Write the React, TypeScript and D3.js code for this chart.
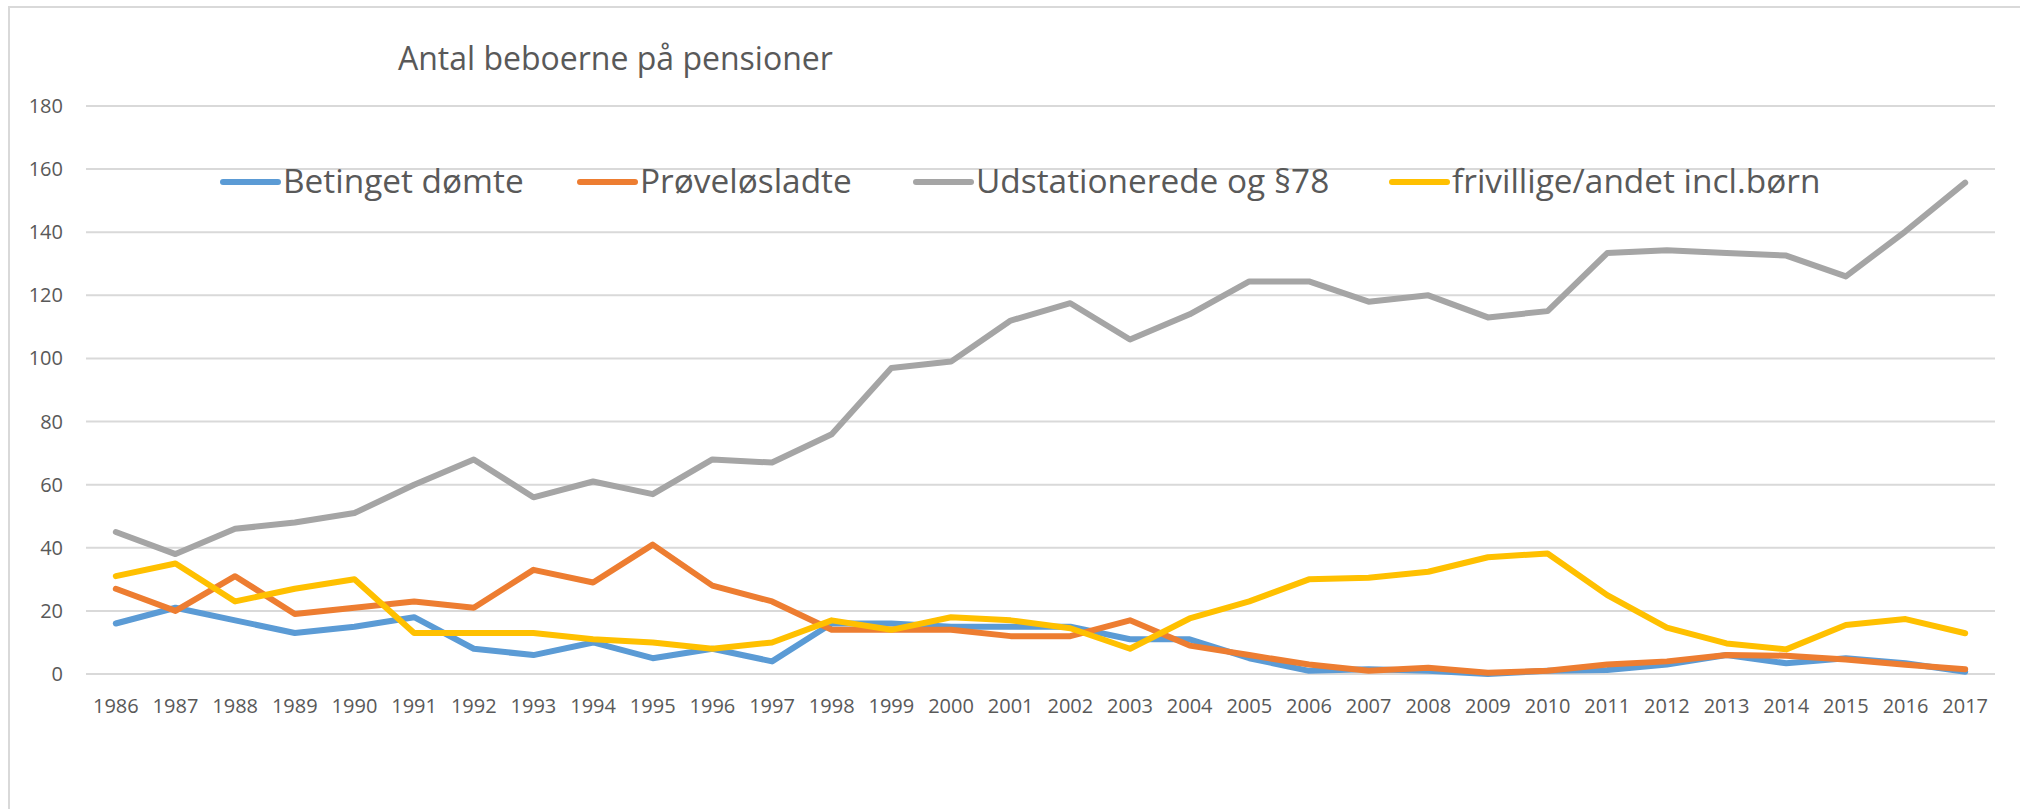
import React from "react";
import * as d3 from "d3";

const years = ["1986","1987","1988","1989","1990","1991","1992","1993","1994","1995","1996","1997","1998","1999","2000","2001","2002","2003","2004","2005","2006","2007","2008","2009","2010","2011","2012","2013","2014","2015","2016","2017"];

const betingetDomte = [16,21,17,13,15,18,8,6,10,5,8,4,16,16,15,15,15,11,11,5,1,1.5,1,0,1,1.3,3,6,3.4,5,3.4,0.7];
const proveloesladte = [27,20,31,19,21,23,21,33,29,41,28,23,14,14,14,12,12,17,9,6,3,1,2,0.4,1,3,4,6,5.8,4.6,2.9,1.5];
const udstationerede = [45,38,46,48,51,60,68,56,61,57,68,67,76,97,99,112,117.5,106,114,124.4,124.4,118,120,113,115,133.4,134.3,133.4,132.6,126,140.3,155.7];
const frivillige = [31,35,23,27,30,13,13,13,11,10,8,10,17,14,18,17,14.5,8,17.6,23,30,30.5,32.4,37,38.2,25,14.7,9.7,7.8,15.5,17.4,12.9];

const seriesNames = ["Betinget dømte","Prøveløsladte","Udstationerede og §78","frivillige/andet incl.børn"];
const seriesColors = ["#5B9BD5","#ED7D31","#A5A5A5","#FFC000"];
const yTicks = [0,20,40,60,80,100,120,140,160,180];
const title = "Antal beboerne på pensioner";

const W = 2020, H = 809;
const FONT = "'Open Sans', 'Noto Sans', sans-serif";
const TEXT = "#595959";
const GRID = "#D9D9D9";

export default function App() {
  const series = [betingetDomte, proveloesladte, udstationerede, frivillige];
  const x = d3.scaleBand<string>().domain(years).range([86, 1995]).padding(0);
  const y = d3.scaleLinear().domain([0, 180]).range([674, 106]);
  const cx = (yr: string) => (x(yr) as number) + x.bandwidth() / 2;
  const line = d3.line<number>().x((_, i) => cx(years[i])).y((v) => y(v));
  const legendX = [223, 580, 916, 1392];

  return (
    <svg width={W} height={H} style={{ position: "absolute", left: 0, top: 0, background: "#fff" }} fontFamily={FONT}>
      <rect x={0} y={0} width={W} height={H} fill="#fff" />
      <rect x={9} y={7} width={W + 20} height={H + 20} fill="none" stroke={GRID} strokeWidth={2} />
      <text x={398} y={70} fontSize={32} fill={TEXT}>{title}</text>
      {yTicks.map((t) => (
        <g key={t}>
          <line x1={86} x2={1995} y1={y(t)} y2={y(t)} stroke={GRID} strokeWidth={2} />
          <text x={63} y={y(t)} dy="0.35em" textAnchor="end" fontSize={20} fill={TEXT}>{t}</text>
        </g>
      ))}
      {years.map((yr) => (
        <text key={yr} x={cx(yr)} y={713} textAnchor="middle" fontSize={20} fill={TEXT}>{yr}</text>
      ))}
      {series.map((s, i) => (
        <path key={i} d={line(s) || ""} fill="none" stroke={seriesColors[i]} strokeWidth={6} strokeLinejoin="round" strokeLinecap="round" />
      ))}
      {seriesNames.map((n, i) => (
        <g key={n}>
          <line x1={legendX[i]} x2={legendX[i] + 55} y1={182} y2={182} stroke={seriesColors[i]} strokeWidth={6} strokeLinecap="round" />
          <text x={legendX[i] + 60} y={193} fontSize={33.4} fill={TEXT}>{n}</text>
        </g>
      ))}
    </svg>
  );
}
